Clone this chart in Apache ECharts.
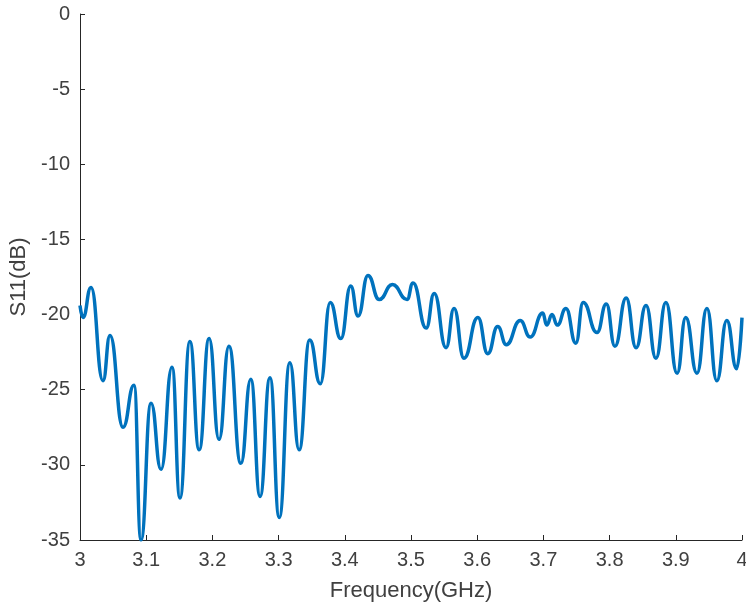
<!DOCTYPE html>
<html>
<head>
<meta charset="utf-8">
<script src="https://cdn.jsdelivr.net/npm/echarts@6/dist/echarts.min.js"></script>
<style>
    html, body { margin: 0; padding: 0; background: #fff; }
    #chart { width: 746px; height: 605px; }
</style>
</head>
<body>
<div id="chart"></div>
<script>
// 频率 (GHz) - 读自原图的峰/谷点
const freq = [
    3.000, 3.0045, 3.0166, 3.0347, 3.0453, 3.065, 3.0816, 3.0921, 3.1073,
    3.1224, 3.139, 3.151, 3.166, 3.180, 3.195, 3.210, 3.225, 3.243, 3.258,
    3.272, 3.287, 3.301, 3.317, 3.331, 3.347, 3.363, 3.378, 3.394,
    3.409, 3.420, 3.435, 3.452, 3.472, 3.494, 3.503, 3.523, 3.535,
    3.553, 3.565, 3.580, 3.601, 3.616, 3.631, 3.644, 3.665, 3.680, 3.699,
    3.705, 3.713, 3.721, 3.734, 3.749, 3.760, 3.781, 3.795, 3.808, 3.825,
    3.840, 3.855, 3.870, 3.885, 3.902, 3.915, 3.932, 3.947, 3.962, 3.977,
    3.992, 4.000
];
// S11 (dB)
const s11 = [
    -19.4, -20.2, -18.2, -24.4, -21.4, -27.5, -24.7, -35.0, -25.9,
    -30.3, -23.5, -32.2, -21.8, -29.0, -21.6, -28.3, -22.1, -29.9, -24.3,
    -32.1, -24.2, -33.5, -23.2, -29.0, -21.7, -24.6, -19.2, -21.6,
    -18.1, -20.1, -17.4, -19.0, -18.0, -19.0, -17.9, -20.9, -18.6,
    -22.2, -19.6, -22.9, -20.2, -22.6, -20.8, -22.0, -20.4, -21.5, -19.9,
    -20.7, -20.0, -20.7, -19.6, -21.9, -19.2, -21.2, -19.3, -22.1, -18.9,
    -22.2, -19.4, -22.9, -19.2, -23.9, -20.2, -23.9, -19.6, -24.4, -20.4,
    -23.6, -20.2
];
const xTicks = { min: 3, max: 4, interval: 0.1 };
const yTicks = { min: -35, max: 0, interval: 5 };

const chart = echarts.init(document.getElementById('chart'));
const axisColor = '#262626';
const textColor = '#404040';
const fontFamily = '"Liberation Sans", Arial, sans-serif';

const option = {
    backgroundColor: '#fff',
    animation: false,
    grid: {
        left: 80,
        right: 4,
        top: 14,
        bottom: 65,
        outerBoundsMode: 'none',
        containLabel: false
    },
    xAxis: {
        type: 'value',
        min: xTicks.min,
        max: xTicks.max,
        interval: xTicks.interval,
        name: 'Frequency(GHz)',
        nameLocation: 'middle',
        nameGap: 40,
        nameTextStyle: { color: textColor, fontSize: 22, fontFamily: fontFamily },
        axisLine: { onZero: false, lineStyle: { color: axisColor, width: 1 } },
        axisTick: { inside: true, length: 5, lineStyle: { color: axisColor } },
        axisLabel: { color: textColor, fontSize: 20, fontFamily: fontFamily, margin: 10 },
        splitLine: { show: false }
    },
    yAxis: {
        type: 'value',
        min: yTicks.min,
        max: yTicks.max,
        interval: yTicks.interval,
        name: 'S11(dB)',
        nameLocation: 'middle',
        nameGap: 47,
        nameTextStyle: { color: textColor, fontSize: 22, fontFamily: fontFamily },
        axisLine: { show: true, onZero: false, lineStyle: { color: axisColor, width: 1 } },
        axisTick: { show: true, inside: true, length: 5, lineStyle: { color: axisColor } },
        axisLabel: { color: textColor, fontSize: 20, fontFamily: fontFamily, margin: 10 },
        splitLine: { show: false }
    },
    series: [{
        type: 'line',
        data: freq.map((f, i) => [f, s11[i]]),
        showSymbol: false,
        smooth: 0.5,
        smoothMonotone: 'x',
        lineStyle: { color: '#0072BD', width: 3.5 },
        clip: true
    }]
};

chart.setOption(option);
</script>
</body>
</html>
